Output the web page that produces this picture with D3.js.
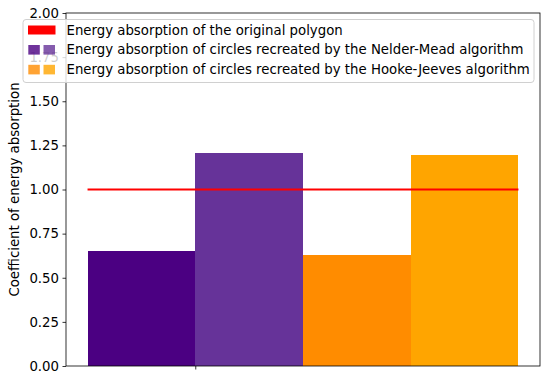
<!DOCTYPE html>
<html><head><meta charset="utf-8">
<script src="https://cdn.jsdelivr.net/npm/d3@7"></script>
<style>body{margin:0;background:#fff}svg{display:block}text{font-family:"DejaVu Sans",sans-serif}</style>
</head><body>
<script>
const categories = ["Nelder-Mead (start)", "Nelder-Mead", "Hooke-Jeeves (start)", "Hooke-Jeeves"];
const values = [0.652, 1.204, 0.629, 1.193];
const barColors = ["#4b0082", "#663399", "#ff8c00", "#ffa500"];
const barLeft = [-0.2, 0, 0.2, 0.4];
const barWidth = 0.2;
const referenceValue = 1.0;
const yTicks = [0, 0.25, 0.5, 0.75, 1.0, 1.25, 1.5, 1.75, 2.0];
const legendLabels = [
  "Energy absorption of the original polygon",
  "Energy absorption of circles recreated by the Nelder-Mead algorithm",
  "Energy absorption of circles recreated by the Hooke-Jeeves algorithm"
];
const legendColors = [["#ff0000"], ["#4b0082", "#663399"], ["#ff8c00", "#ffa500"]];

const FS = "13.3px";
const W = 550, H = 381;
const svg = d3.select("body").append("svg").attr("width", W).attr("height", H);
const L = 66, R = 540, T = 13, B = 366;
const x = d3.scaleLinear().domain([-0.24, 0.64]).range([L, R]);
const y = d3.scaleLinear().domain([0, 2]).range([B, T]);

svg.selectAll("rect.bar").data(values).join("rect").attr("class", "bar")
  .attr("x", (d, i) => x(barLeft[i]))
  .attr("width", (d, i) => x(barLeft[i] + barWidth) - x(barLeft[i]))
  .attr("y", d => y(d)).attr("height", d => y(0) - y(d))
  .attr("fill", (d, i) => barColors[i])
  .attr("shape-rendering", "crispEdges");

svg.append("line")
  .attr("x1", x(barLeft[0])).attr("x2", x(barLeft[3] + barWidth))
  .attr("y1", y(referenceValue)).attr("y2", y(referenceValue))
  .attr("stroke", "#ff0000").attr("stroke-width", 2);

// axes
const yAxis = d3.axisLeft(y).tickValues(yTicks).tickFormat(d3.format(".2f")).tickSize(3.5).tickPadding(3.5);
const gy = svg.append("g").attr("transform", `translate(${L},0)`).call(yAxis);
gy.select(".domain").remove();
gy.selectAll("text").attr("font-size", FS).attr("fill", "#000").attr("font-family", "DejaVu Sans");
gy.selectAll("line").attr("stroke", "#000").attr("stroke-width", 0.8);

const xAxis = d3.axisBottom(x).tickValues([0]).tickFormat("").tickSize(3.5);
const gx = svg.append("g").attr("transform", `translate(0,${B})`).call(xAxis);
gx.select(".domain").remove();
gx.selectAll("line").attr("stroke", "#000").attr("stroke-width", 0.8);

svg.append("rect").attr("x", L).attr("y", T).attr("width", R - L).attr("height", B - T)
  .attr("fill", "none").attr("stroke", "#000").attr("stroke-width", 0.8);

svg.append("text").attr("transform", `translate(14,${(T + B) / 2}) rotate(-90)`)
  .attr("text-anchor", "middle").attr("dominant-baseline", "central")
  .attr("font-size", FS).attr("fill", "#000").text("Coefficient of energy absorption");

// legend
const lg = svg.append("g");
lg.append("rect").attr("x", 23).attr("y", 19.5).attr("width", 511).attr("height", 63)
  .attr("rx", 3).attr("fill", "#fff").attr("fill-opacity", 0.8)
  .attr("stroke", "#d0d0d0").attr("stroke-width", 1);
const rowY = [30, 49.8, 69.6];
legendLabels.forEach((lab, i) => {
  const cols = legendColors[i];
  if (cols.length === 1) {
    lg.append("rect").attr("x", 28).attr("y", rowY[i] - 4.5).attr("width", 27.5).attr("height", 9).attr("fill", cols[0]);
  } else {
    cols.forEach((c, j) => {
      lg.append("rect").attr("x", 28.3 + j * 15.2).attr("y", rowY[i] - 4.8).attr("width", 11.5).attr("height", 9.6)
        .attr("fill", c).attr("fill-opacity", 0.8);
    });
  }
  lg.append("text").attr("x", 66.5).attr("y", rowY[i]).attr("dominant-baseline", "central")
    .attr("font-size", FS).attr("fill", "#000").text(lab);
});
</script>
</body></html>
